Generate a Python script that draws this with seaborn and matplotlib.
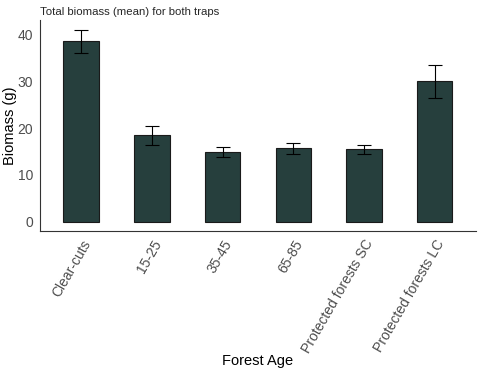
import pandas as pd
import seaborn as sns
import matplotlib.pyplot as plt
import numpy as np

# values
forest_age = ['Clear-cuts', '15-25', '35-45', '65-85', 'Protected forests SC', 'Protected forests LC']
biomass_mean = [38.6, 18.6, 14.9, 15.7, 15.5, 30.1]
biomass_lo = [36.1, 16.5, 13.9, 14.5, 14.5, 26.5]
biomass_hi = [41.0, 20.5, 15.9, 16.8, 16.5, 33.5]

df = pd.DataFrame({'age': forest_age, 'mean': biomass_mean, 'lo': biomass_lo, 'hi': biomass_hi})

sns.set_style('white')
plt.rcParams['font.family'] = ['Liberation Sans', 'DejaVu Sans']

fig, ax = plt.subplots(figsize=(4.83, 3.72), dpi=100)

sns.barplot(data=df, x='age', y='mean', color='#263f3d', width=0.5,
            edgecolor='#1a1a1a', linewidth=0.8, saturation=1, ax=ax)

#error bars from the lo/hi columns
xs = np.arange(len(df))
ax.errorbar(xs, df['mean'], yerr=[df['mean'] - df['lo'], df['hi'] - df['mean']],
            fmt='none', ecolor='black', elinewidth=0.8, capsize=5, capthick=0.8)

ax.set_ylim(-1.9, 43)
ax.set_xlim(-0.58, 5.58)
ax.set_yticks([0, 10, 20, 30, 40])
ax.tick_params(axis='both', colors='#4d4d4d', labelsize=10, length=3, width=0.8, pad=2)
ax.tick_params(axis='x', labelrotation=60)
for lab in ax.get_xticklabels():
    lab.set_ha('right')
    lab.set_rotation_mode('anchor')

ax.set_xlabel('Forest Age', fontsize=10.5, color='black', va='center')
ax.set_ylabel('Biomass (g)', fontsize=10.5, color='black')
ax.xaxis.set_label_coords(0.5, -0.62)
ax.yaxis.set_label_coords(-0.052, 0.5)
ax.set_title('Total biomass (mean) for both traps', fontsize=8.2, loc='left', x=0, pad=4)

sns.despine(ax=ax)
for s in ['left', 'bottom']:
    ax.spines[s].set_color('#333333')
    ax.spines[s].set_linewidth(0.8)

fig.subplots_adjust(left=0.083, right=0.985, top=0.945, bottom=0.38)
fig.savefig('out.png')
